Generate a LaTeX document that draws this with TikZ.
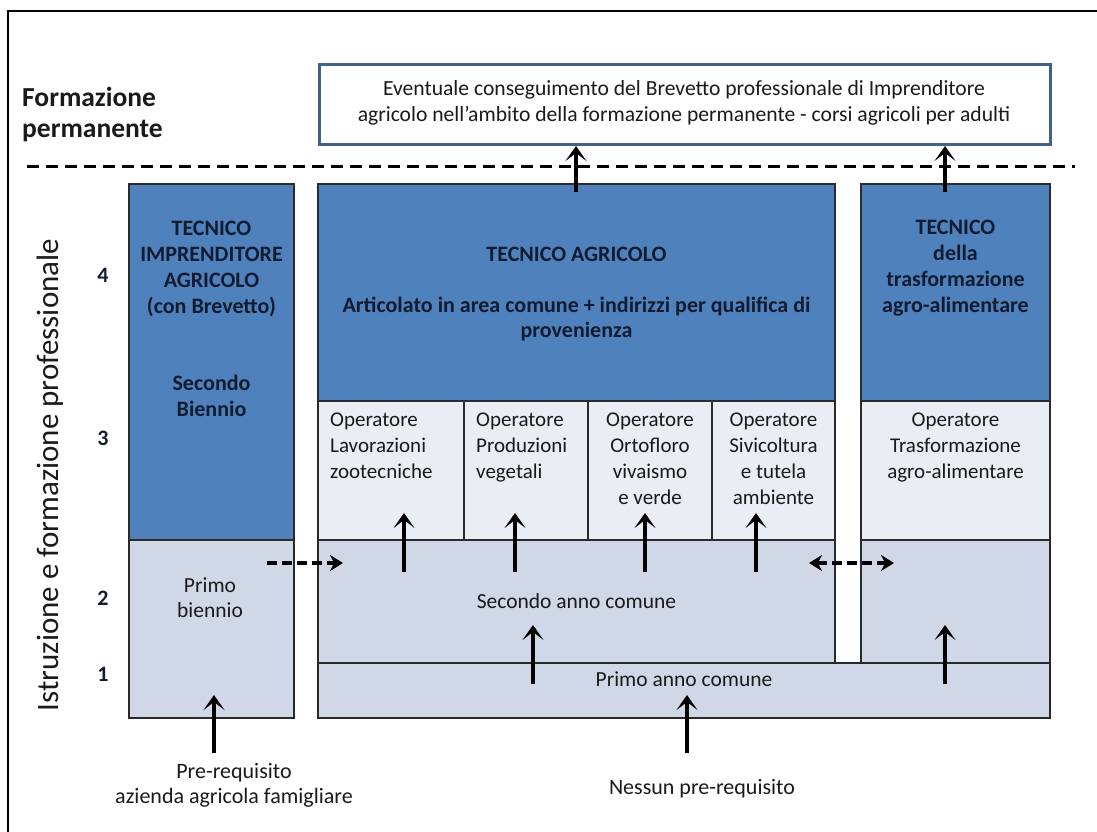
\documentclass[tikz,border=0pt]{standalone}
\usepackage{fontspec}
\setmainfont{Carlito}
\usetikzlibrary{arrows.meta}
\definecolor{dkblue}{HTML}{4F81BD}
\definecolor{paleblue}{HTML}{E9EDF4}
\definecolor{midblue}{HTML}{D0D8E8}
\definecolor{boxedge}{HTML}{41618C}
\definecolor{ink}{HTML}{1A1A1A}
\definecolor{navyink}{HTML}{121C30}
\definecolor{gridline}{HTML}{2A2A2A}

\begin{document}
\begin{tikzpicture}[x=1pt,y=-1pt,
  cell/.style={draw=gridline, line width=1.3pt, inner sep=0pt, outer sep=0pt, anchor=north west},
  darkcell/.style={cell, fill=dkblue},
  palecell/.style={cell, fill=paleblue},
  midcell/.style={cell, fill=midblue},
  lbl/.style={inner sep=0pt, text=ink, font=\fontsize{21}{26}\selectfont, align=center},
  hdr/.style={inner sep=0pt, text=navyink, font=\fontsize{22}{26}\selectfont\bfseries, align=center},
  arr/.style={line width=3.6pt, draw=black, -{Stealth[length=15pt,width=21pt,inset=8pt]}},
  darr/.style={line width=4pt, draw=black, dash pattern=on 10pt off 5pt, -{Stealth[length=13pt,width=16pt]}},
  ddarr/.style={line width=4pt, draw=black, dash pattern=on 10pt off 5pt, {Stealth[length=13pt,width=16pt]}-{Stealth[length=13pt,width=16pt]}},
]
\useasboundingbox (0,0) rectangle (1097,832);
\clip (0,0) rectangle (1097,832);
\fill[white] (0,0) rectangle (1097,832);

% outer frame
\draw[line width=2.5pt, black] (1110,11) -- (8,11) -- (8,845);

% permanent training area (base anchor = baseline of the last line)
\node[inner sep=0pt, anchor=base west, align=left, text=ink,
      font=\fontsize{27.5}{32}\selectfont\bfseries] (formLbl) at (22,138) {Formazione\\permanente};
\node[draw=boxedge, line width=3pt, fill=white, inner sep=0pt, anchor=north west,
      minimum width=731pt, minimum height=80pt] (topbox) at (318,63) {};
\node[lbl, anchor=base, font=\fontsize{21.6}{26}\selectfont] (tTop) at (684,122)
  {Eventuale conseguimento del Brevetto professionale di Imprenditore\\
   agricolo nell’ambito della formazione permanente - corsi agricoli per adulti};

\draw[line width=3pt, black, dash pattern=on 12pt off 7pt] (27,166) -- (1075,166);

% left column
\node[darkcell, minimum width=165pt, minimum height=356pt] (lbTop) at (129,184) {};
\node[midcell, minimum width=165pt, minimum height=178pt] (lbLow) at (129,540) {};

% central column
\node[darkcell, minimum width=517pt, minimum height=217pt] (ctTop) at (318,184) {};
\node[palecell, minimum width=146pt, minimum height=139pt] (opA) at (318,401) {};
\node[palecell, minimum width=124pt, minimum height=139pt] (opB) at (464,401) {};
\node[palecell, minimum width=124pt, minimum height=139pt] (opC) at (588,401) {};
\node[palecell, minimum width=123pt, minimum height=139pt] (opD) at (712,401) {};
\node[midcell, minimum width=517pt, minimum height=123pt] (cSecond) at (318,540) {};

% right column
\node[darkcell, minimum width=189pt, minimum height=217pt] (rtTop) at (861,184) {};
\node[palecell, minimum width=189pt, minimum height=139pt] (rtOp) at (861,401) {};
\node[midcell, minimum width=189pt, minimum height=123pt] (rtLow) at (861,540) {};

% common first year
\node[midcell, minimum width=732pt, minimum height=55pt] (cFirst) at (318,663) {};

% texts in the dark cells
\node[hdr, anchor=base] (tLeft) at (211.5,313) {TECNICO\\IMPRENDITORE\\AGRICOLO\\(con Brevetto)};
\node[hdr, anchor=base] (tLeftB) at (211.5,416) {Secondo\\Biennio};
\node[hdr, anchor=base] (tCenter) at (576.5,261) {TECNICO AGRICOLO};
\node[hdr, anchor=base, font=\fontsize{22}{25}\selectfont\bfseries] (tCenterB) at (576.5,337)
  {Articolato in area comune + indirizzi per qualifica di\\provenienza};
\node[hdr, anchor=base] (tRight) at (955.5,312) {TECNICO\\della\\trasformazione\\agro-alimentare};

% qualification cells
\node[lbl, anchor=base west, align=left] (tOpA) at (330,478) {Operatore\\Lavorazioni\\zootecniche};
\node[lbl, anchor=base west, align=left] (tOpB) at (476,478) {Operatore\\Produzioni\\vegetali};
\node[lbl, anchor=base] (tOpC) at (650,504) {Operatore\\Ortofloro\\vivaismo\\e verde};
\node[lbl, anchor=base] (tOpD) at (773.5,504) {Operatore\\Sivicoltura\\e tutela\\ambiente};
\node[lbl, anchor=base] (tOpR) at (955.5,478) {Operatore\\Trasformazione\\agro-alimentare};

% lower cells
\node[lbl, anchor=base, font=\fontsize{21.5}{25}\selectfont] (tPrimoB) at (210,617) {Primo\\biennio};
\node[lbl, anchor=base, font=\fontsize{21.5}{25}\selectfont] (tSecondo) at (576.5,608) {Secondo anno comune};
\node[lbl, anchor=base, font=\fontsize{21.5}{25}\selectfont] (tPrimo) at (684,686) {Primo anno comune};

% entry requirements
\node[lbl, anchor=base, font=\fontsize{22}{25}\selectfont] (reqLeft) at (234,803) {Pre-requisito\\azienda agricola famigliare};
\node[lbl, anchor=base, font=\fontsize{22}{25}\selectfont] (reqNone) at (702,794) {Nessun pre-requisito};

% year numbers and side title
\node[hdr] (yr4) at (103,275) {4};
\node[hdr] (yr3) at (103,438) {3};
\node[hdr] (yr2) at (103,598) {2};
\node[hdr] (yr1) at (103,674) {1};
\node[rotate=90, inner sep=0pt, text=ink, font=\fontsize{31}{36}\selectfont] (sideLbl) at (50,475)
  {Istruzione e formazione professionale};

% arrow tails and heads
\coordinate (sA) at (576,192);
\coordinate (sB) at (945,192);
\coordinate (sOpA) at (404,572);
\coordinate (sOpB) at (515,572);
\coordinate (sOpC) at (645,572);
\coordinate (sOpD) at (756,572);
\coordinate (hOpA) at (404,513);
\coordinate (hOpB) at (515,513);
\coordinate (hOpC) at (645,513);
\coordinate (hOpD) at (756,513);
\coordinate (sSec) at (533,684);
\coordinate (hSec) at (533,625);
\coordinate (sRt) at (945,684);
\coordinate (hRt) at (945,625);
\coordinate (sFirst) at (687,753);
\coordinate (hFirst) at (687,695);
\coordinate (sLeft) at (214,753);
\coordinate (hLeft) at (214,695);
\coordinate (dA) at (267,563);
\coordinate (dB) at (343,563);
\coordinate (dC) at (809,563);
\coordinate (dD) at (894,563);

% arrows
\draw[arr] (sA) -- (topbox.south -| sA);
\draw[arr] (sB) -- (topbox.south -| sB);
\draw[arr] (sOpA) -- (hOpA);
\draw[arr] (sOpB) -- (hOpB);
\draw[arr] (sOpC) -- (hOpC);
\draw[arr] (sOpD) -- (hOpD);
\draw[arr] (sSec) -- (hSec);
\draw[arr] (sRt) -- (hRt);
\draw[arr] (sFirst) -- (hFirst);
\draw[arr] (sLeft) -- (hLeft);
\draw[darr] (dA) -- (dB);
\draw[ddarr] (dC) -- (dD);
\end{tikzpicture}
\end{document}
